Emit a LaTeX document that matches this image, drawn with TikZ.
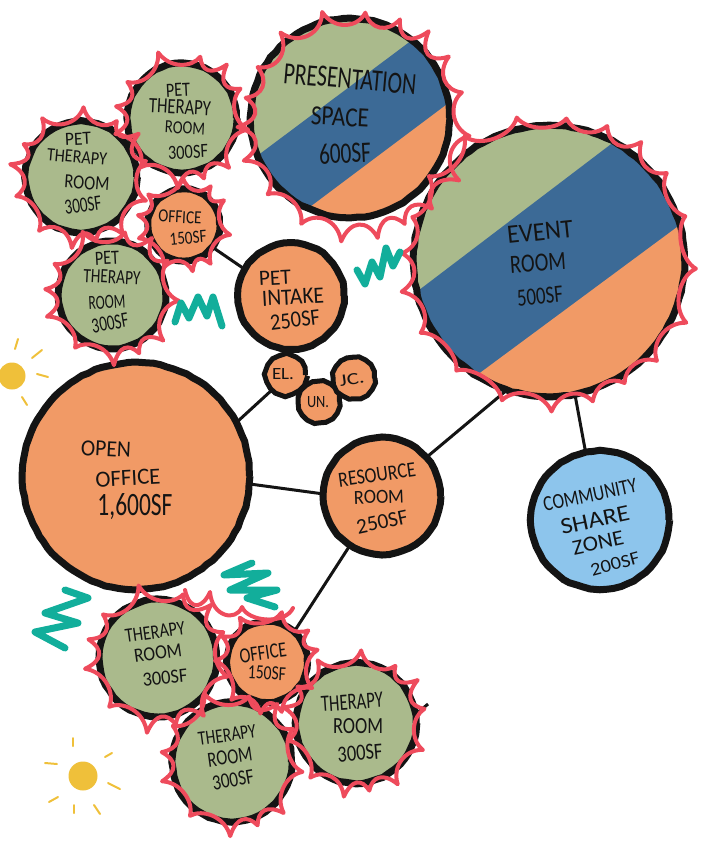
\documentclass[tikz,border=0pt]{standalone}
\usepackage{graphicx}
\usepackage{fontspec}
\usetikzlibrary{decorations.pathmorphing}
\setmainfont{Carlito}
\definecolor{sage}{HTML}{AABA8C}
\definecolor{peach}{HTML}{F19A66}
\definecolor{deepblue}{HTML}{3C6A96}
\definecolor{sky}{HTML}{8DC5EC}
\definecolor{coral}{HTML}{EE4B5C}
\definecolor{tealc}{HTML}{12AE9B}
\definecolor{sunc}{HTML}{EFC03A}
\definecolor{inkc}{HTML}{141414}
\tikzset{
  room/.style={circle,draw=inkc,line width=7pt,inner sep=0pt,outer sep=0pt,decorate,decoration={random steps,segment length=7pt,amplitude=0.5pt}},
  link/.style={draw=inkc,line width=3pt},
  redline/.style={draw=coral,line width=4pt,line cap=round,line join=round},
  zigzag/.style={draw=tealc,line width=7pt,line cap=round,line join=round},
  ray/.style={draw=sunc,line width=2pt,line cap=round},
  lab/.style={inner sep=0pt,outer sep=0pt,text=inkc}
}
% #1 name, #2 radius, #3 peak, #4 dip, #5 count, #6 phase
\newcommand\scallop[6]{%
  \begin{scope}[shift={(#1)}]
  \pgfmathsetmacro\stp{360/#5}
  \draw[redline] ({#6}:{#2+#3}) \foreach \i [evaluate=\i as \j using int(\i+1)] in {0,...,\numexpr#5-1\relax} {
    \pgfextra{%
      \pgfmathsetmacro\aa{#6+\i*\stp+0.22*\stp*sin(3*\i*\stp)}%
      \pgfmathsetmacro\bb{#6+\j*\stp+0.22*\stp*sin(3*\j*\stp)}%
      \pgfmathsetmacro\hh{#2+#3*(1+0.35*sin(5*\j*\stp))}%
      \pgfmathsetmacro\ca{\aa+0.2*\stp}%
      \pgfmathsetmacro\cb{\bb-0.2*\stp}%
      \pgfmathsetmacro\rr{#2-#4}%
    }
    .. controls (\ca:\rr) and (\cb:\rr) .. (\bb:\hh) };
  \end{scope}}
% #1 name, #2 x, #3 y, #4 rotation, #5 width, #6 height, #7 text
\newcommand\lettering[7]{\node[lab,rotate=#4] (#1) at (#2,#3) {\resizebox{#5pt}{#6pt}{#7}};}
\begin{document}
\begin{tikzpicture}[x=1pt,y=-1pt]
\useasboundingbox (0,0) rectangle (715,848);
\pgfmathsetseed{7}

% striped fills
\begin{scope}
  \clip (350,118) circle (100);
  \fill[sage] (240,10) rectangle (460,230);
  \fill[deepblue] (162,227) -- (562,-72) -- (600,100) -- (300,300) -- cycle;
  \fill[peach] (182,303) -- (582,3) -- (600,300) -- cycle;
\end{scope}
\begin{scope}
  \clip (549,261) circle (137);
  \fill[sage] (400,110) rectangle (700,410);
  \fill[deepblue] (302,379) -- (802,-1) -- (800,100) -- (800,300) -- (400,600) -- cycle;
  \fill[peach] (342,475) -- (842,105) -- (842,500) -- (400,500) -- cycle;
\end{scope}

% rooms
\node[room,minimum size=199pt] (present) at (350,118) {};
\node[room,minimum size=271pt] (event) at (549,261) {};
\node[room,fill=sage,minimum size=109pt] (pettop) at (182,118) {};
\node[room,fill=sage,minimum size=111pt] (petleft) at (81,177) {};
\node[room,fill=sage,minimum size=107pt] (petlow) at (112,295) {};
\node[room,fill=peach,minimum size=71pt] (officeA) at (184,225) {};
\node[room,fill=peach,minimum size=106pt] (intake) at (291,296) {};
\node[room,fill=peach,line width=5pt,minimum size=39pt] (el) at (286,375) {};
\node[room,fill=peach,line width=5pt,minimum size=41pt] (un) at (319,402) {};
\node[room,fill=peach,line width=5pt,minimum size=41pt] (jc) at (354,378) {};
\node[room,fill=peach,minimum size=227pt] (open) at (136,476) {};
\node[room,fill=peach,minimum size=117pt] (resource) at (382,496) {};
\node[room,fill=sky,minimum size=138pt] (community) at (600,520) {};
\node[room,fill=sage,minimum size=117pt] (therapyA) at (158,658) {};
\node[room,fill=peach,minimum size=80pt] (officeB) at (267,662) {};
\node[room,fill=sage,minimum size=119pt] (therapyB) at (232,762) {};
\node[room,fill=sage,minimum size=120pt] (therapyC) at (356,723) {};

% connectors
\coordinate (stub) at (428,704);
\draw[link] (officeA.-38) -- (intake.150);
\draw[link] (open.28) -- (el.227);
\draw[link] (open.-4) -- (resource.178);
\draw[link] (resource.41) -- (event.252);
\draw[link] (resource.237) -- (officeB.48);
\draw[link] (event.-79) -- (community.102);
\draw[link] (therapyC.8) -- (stub);

% coral scallops
\coordinate (presentRing) at (355,124);
\scallop{presentRing}{105}{10}{9}{19}{6}
\scallop{event.center}{137}{10}{6}{20}{3}
\scallop{pettop.center}{58}{9}{7}{12}{10}
\scallop{petleft.center}{60}{9}{7}{13}{20}
\scallop{petlow.center}{58}{9}{7}{12}{5}
\scallop{officeA.center}{39}{8}{5}{10}{12}
\scallop{officeB.center}{44}{8}{6}{10}{30}
\scallop{therapyA.center}{62}{10}{7}{12}{15}
\scallop{therapyB.center}{62}{9}{7}{12}{8}
\scallop{therapyC.center}{63}{9}{7}{13}{22}
\coordinate (arcA) at (185,590);
\coordinate (arcB) at (210,592);
\coordinate (arcC) at (242,607);
\coordinate (arcD) at (293,608);
\draw[redline] (arcA) .. controls (190,612) and (203,608) .. (arcB) .. controls (212,617) and (236,622) .. (arcC) .. controls (248,622) and (285,625) .. (arcD);

% teal scribbles
\draw[zigzag] (175,322) -- (181,303) -- (189,318) -- (198,297) -- (207,316) -- (213,297) -- (222,326);
\draw[zigzag] (357,270) -- (365,284) -- (372,262) -- (380,277) -- (386,248) -- (393,266) -- (400,252);
\draw[zigzag] (65,590) -- (88,598) -- (45,613) -- (78,623) -- (35,632) -- (65,648);
\draw[zigzag] (252,563) -- (224,575) -- (268,573) -- (230,590) -- (277,590) -- (247,598) -- (275,607);

% suns
\fill[sunc] (12,376) circle (13.5);
\draw[ray] (18,339) -- (15,349);
\draw[ray] (42,350) -- (32,358);
\draw[ray] (37,374) -- (48,377);
\draw[ray] (22,397) -- (27,405);
\fill[sunc] (83,776) circle (14.5);
\draw[ray] (73,738) -- (73,746);
\draw[ray] (45,763) -- (57,764);
\draw[ray] (105,757) -- (112,753);
\draw[ray] (108,783) -- (120,789);
\draw[ray] (49,802) -- (58,797);
\draw[ray] (74,805) -- (74,813);
\draw[ray] (94,805) -- (100,814);

% lettering
\lettering{p1}{350}{79}{-5}{133}{20}{PRESENTATION}
\lettering{p2}{340}{117}{-3}{58}{18}{SPACE}
\lettering{p3}{345}{153}{3}{52}{20}{600SF}
\lettering{e1}{540}{232}{6}{66}{17}{EVENT}
\lettering{e2}{538}{263}{4}{56}{17}{ROOM}
\lettering{e3}{540}{296}{6}{46}{16}{500SF}
\lettering{a1}{178}{90}{3}{24}{13}{PET}
\lettering{a2}{180}{107}{-3}{62}{14}{THERAPY}
\lettering{a3}{185}{128}{-3}{40}{12}{ROOM}
\lettering{a4}{188}{152}{3}{40}{13}{300SF}
\lettering{b1}{78}{139}{3}{26}{12}{PET}
\lettering{b2}{77}{157}{-5}{60}{12}{THERAPY}
\lettering{b3}{87}{183}{-4}{45}{13}{ROOM}
\lettering{b4}{83}{205}{8}{37}{14}{300SF}
\lettering{c1}{107}{258}{3}{24}{13}{PET}
\lettering{c2}{112}{277}{-3}{57}{13}{THERAPY}
\lettering{c3}{107}{302}{3}{37}{13}{ROOM}
\lettering{c4}{110}{323}{10}{37}{14}{300SF}
\lettering{d1}{180}{217}{-3}{43}{12}{OFFICE}
\lettering{d2}{188}{238}{5}{37}{12}{150SF}
\lettering{i1}{275}{278}{3}{32}{14}{PET}
\lettering{i2}{293}{297}{3}{62}{15}{INTAKE}
\lettering{i3}{295}{320}{7}{50}{15}{250SF}
\lettering{el-t}{283}{374}{0}{22}{11}{EL.}
\lettering{un-t}{318}{402}{0}{22}{11}{UN.}
\lettering{jc-t}{352}{379}{8}{25}{11}{JC.}
\lettering{o1}{106}{449}{-3}{50}{15}{OPEN}
\lettering{o2}{128}{478}{3}{65}{15}{OFFICE}
\lettering{o3}{135}{507}{0}{75}{22}{1,600SF}
\lettering{r1}{377}{475}{8}{78}{14}{RESOURCE}
\lettering{r2}{379}{497}{2}{50}{13}{ROOM}
\lettering{r3}{382}{522}{12}{52}{14}{250SF}
\lettering{s1}{590}{495}{12}{95}{14}{COMMUNITY}
\lettering{s2}{595}{520}{12}{70}{15}{SHARE}
\lettering{s3}{598}{543}{12}{52}{14}{ZONE}
\lettering{s4}{615}{564}{15}{50}{12}{200SF}
\lettering{f1}{155}{632}{8}{60}{13}{THERAPY}
\lettering{f2}{158}{653}{8}{48}{13}{ROOM}
\lettering{f3}{165}{678}{6}{45}{13}{300SF}
\lettering{g1}{263}{653}{8}{47}{14}{OFFICE}
\lettering{g2}{267}{673}{-3}{38}{13}{150SF}
\lettering{h1}{227}{735}{8}{58}{13}{THERAPY}
\lettering{h2}{230}{757}{8}{45}{14}{ROOM}
\lettering{h3}{233}{780}{10}{42}{14}{300SF}
\lettering{k1}{352}{702}{4}{62}{15}{THERAPY}
\lettering{k2}{358}{726}{0}{50}{15}{ROOM}
\lettering{k3}{360}{753}{5}{45}{15}{300SF}
\end{tikzpicture}
\end{document}
